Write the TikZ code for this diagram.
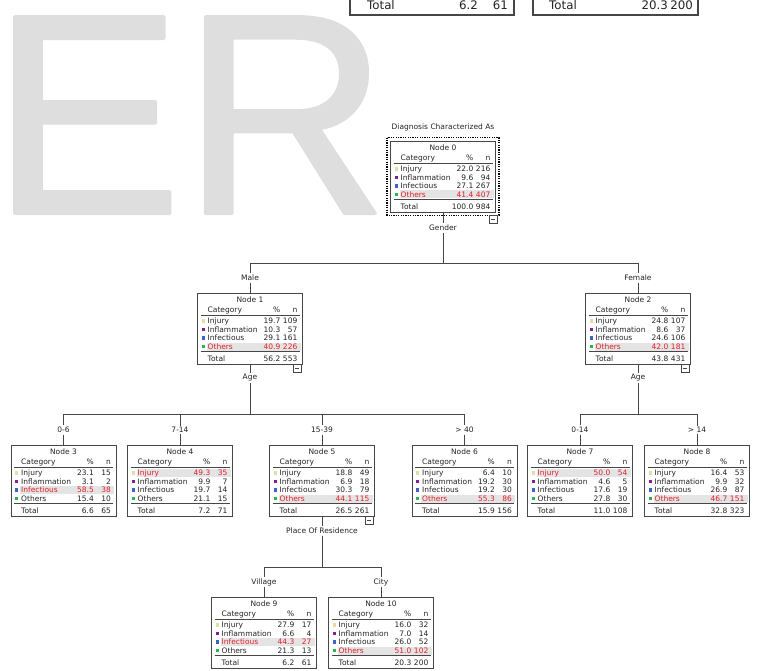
\documentclass[tikz,border=0pt]{standalone}
\usepackage{fontspec}
\setmainfont{DejaVu Sans}
\newfontfamily\erfont{Liberation Sans}
\usetikzlibrary{calc}
\definecolor{sq1}{RGB}{228,220,160}
\definecolor{sq2}{RGB}{140,30,140}
\definecolor{sq3}{RGB}{60,100,200}
\definecolor{sq4}{RGB}{40,180,80}
\definecolor{hired}{RGB}{225,30,40}
\definecolor{hlgrey}{RGB}{228,228,228}
\definecolor{ergrey}{RGB}{222,222,222}
\definecolor{lncol}{RGB}{70,70,70}
\definecolor{txcol}{RGB}{35,35,35}
\tikzset{
 tbox/.style={draw=lncol, line width=0.8pt, minimum width=105pt, minimum height=71pt, inner sep=0pt},
 ttext/.style={inner sep=0pt, font=\fontsize{7.5}{8}\selectfont, text=txcol},
 bigtext/.style={inner sep=0pt, font=\fontsize{11.8}{12}\selectfont, text=txcol},
 ertext/.style={anchor=base west, inner sep=0pt, text=ergrey, font=\erfont\fontsize{286}{286}\selectfont},
 hline/.style={draw=lncol, line width=0.8pt},
 conn/.style={draw=lncol, line width=0.8pt},
 lab/.style={fill=white, inner sep=1.5pt, font=\fontsize{7.5}{8}\selectfont, text=txcol},
}
\newcommand\TNode[8]{%
\begin{scope}[shift={(#2,#3)}]
 \node[tbox] (#1) at (0,35.5) {};
 \node[ttext,anchor=base] at (0,9.9) {Node #4};
 \node[ttext,anchor=base west] at (-42.5,19.7) {Category};
 \node[ttext,anchor=base east] at (30.5,19.7) {\%};
 \node[ttext,anchor=base east] at (47.5,19.7) {n};
 \draw[hline] (-49.5,22.6) -- (49.5,22.6);
 \foreach \pp/\nn [count=\ii] in {#6}{%
   \pgfmathsetmacro\yc{19.5+8.5*\ii}
   \ifnum\ii=#5\relax
     \fill[hlgrey] (-43.5,\yc-4) rectangle (50.5,\yc+4);
     \def\rc{hired}%
   \else \def\rc{txcol}\fi
   \fill[sq\ii] (-48.5,\yc-1.7) rectangle (-45.1,\yc+1.7);
   \node[ttext,text=\rc,anchor=base west] at (-42.5,\yc+2.7) {\ifcase\ii\or Injury\or Inflammation\or Infectious\or Others\fi};
   \node[ttext,text=\rc,anchor=base east] at (30.5,\yc+2.7) {\pp};
   \node[ttext,text=\rc,anchor=base east] at (47.5,\yc+2.7) {\nn};
 }
 \draw[hline] (-49.5,58.6) -- (49.5,58.6);
 \node[ttext,anchor=base west] at (-42.5,68.2) {Total};
 \node[ttext,anchor=base east] at (30.5,68.2) {#7};
 \node[ttext,anchor=base east] at (47.5,68.2) {#8};
\end{scope}}
\newcommand\Toggle[3]{%
 \draw[hline,fill=white] ($(#1.south east)+(-10+#3,#2)$) rectangle ($(#1.south east)+(-2+#3,#2+8)$);
 \draw[hline] ($(#1.south east)+(-8+#3,#2+4)$) -- ($(#1.south east)+(-4+#3,#2+4)$);}
\begin{document}
\begin{tikzpicture}[x=1pt,y=-1pt]
\useasboundingbox (0,0) rectangle (761,671);
\clip (0,0) rectangle (761,671);
% watermark (stroked + filled glyphs for heavier strokes)
\node[ertext] (er) at (-9,213.5) {\special{pdf:literal direct 2 Tr 3.2 w 1 j 0.871 0.871 0.871 RG}ER\special{pdf:literal direct 0 Tr}};
% top fragments
\draw[draw=lncol, line width=1.3pt] (350,-10) -- (350,15) -- (514,15) -- (514,-10);
\draw[draw=lncol, line width=1.3pt] (533,-10) -- (533,15) -- (698,15) -- (698,-10);
\node[bigtext,anchor=base west] (fa1) at (367,9.5) {Total};
\node[bigtext,anchor=base east] (fa2) at (478,9.5) {6.2};
\node[bigtext,anchor=base east] (fa3) at (508,9.5) {61};
\node[bigtext,anchor=base west] (fb1) at (549,9.5) {Total};
\node[bigtext,anchor=base east] (fb2) at (668,9.5) {20.3};
\node[bigtext,anchor=base east] (fb3) at (693,9.5) {200};
% title
\node[ttext,anchor=base] (title) at (443,129.5) {Diagnosis Characterized As};
% nodes
\TNode{n0}{443}{141}{0}{4}{22.0/216, 9.6/94, 27.1/267, 41.4/407}{100.0}{984}
\draw[line width=1.6pt, dash pattern=on 1.2pt off 1.2pt] ($(n0.north west)+(-3,-3)$) rectangle ($(n0.south east)+(3,3)$);
\TNode{n1}{250}{293}{1}{4}{19.7/109, 10.3/57, 29.1/161, 40.9/226}{56.2}{553}
\TNode{n2}{638}{293}{2}{4}{24.8/107, 8.6/37, 24.6/106, 42.0/181}{43.8}{431}
\TNode{n3}{63.5}{445}{3}{3}{23.1/15, 3.1/2, 58.5/38, 15.4/10}{6.6}{65}
\TNode{n4}{180}{445}{4}{1}{49.3/35, 9.9/7, 19.7/14, 21.1/15}{7.2}{71}
\TNode{n5}{322}{445}{5}{4}{18.8/49, 6.9/18, 30.3/79, 44.1/115}{26.5}{261}
\TNode{n6}{464.5}{445}{6}{4}{6.4/10, 19.2/30, 19.2/30, 55.3/86}{15.9}{156}
\TNode{n7}{580}{445}{7}{1}{50.0/54, 4.6/5, 17.6/19, 27.8/30}{11.0}{108}
\TNode{n8}{697}{445}{8}{4}{16.4/53, 9.9/32, 26.9/87, 46.7/151}{32.8}{323}
\TNode{n9}{264}{597}{9}{3}{27.9/17, 6.6/4, 44.3/27, 21.3/13}{6.2}{61}
\TNode{n10}{381}{597}{10}{4}{16.0/32, 7.0/14, 26.0/52, 51.0/102}{20.3}{200}
% labels
\node[lab] (lgen) at (443,228) {Gender};
\node[lab] (lmale) at (250,278) {Male};
\node[lab] (lfem) at (638,278) {Female};
\node[lab] (lage1) at (250,378) {Age};
\node[lab] (lage2) at (638,378) {Age};
\node[lab] (l06) at (63.5,430) {0-6};
\node[lab] (l714) at (180,430) {7-14};
\node[lab] (l1539) at (322,430) {15-39};
\node[lab] (lg40) at (464.5,430) {> 40};
\node[lab] (l014) at (580,430) {0-14};
\node[lab] (lg14) at (697,430) {> 14};
\node[lab] (lpor) at (322,531) {Place Of Residence};
\node[lab] (lvil) at (264,582) {Village};
\node[lab] (lcity) at (381,582) {City};
% junctions
\coordinate (j0) at (443,263);
\coordinate (j0l) at (250,263);
\coordinate (j0r) at (638,263);
\coordinate (j1) at (250,414);
\coordinate (j1a) at (63.5,414);
\coordinate (j1b) at (180,414);
\coordinate (j1c) at (322,414);
\coordinate (j1d) at (464.5,414);
\coordinate (j2) at (638,414);
\coordinate (j2a) at (580,414);
\coordinate (j2b) at (697,414);
\coordinate (j5) at (322,567);
\coordinate (j5a) at (264,567);
\coordinate (j5b) at (381,567);
% connectors
\draw[conn] (n0) -- (lgen) -- (j0);
\draw[conn] (j0l) -- (j0r);
\draw[conn] (j0l) -- (lmale) -- (n1);
\draw[conn] (j0r) -- (lfem) -- (n2);
\draw[conn] (n1) -- (lage1) -- (j1);
\draw[conn] (j1a) -- (j1d);
\draw[conn] (j1a) -- (l06) -- (n3);
\draw[conn] (j1b) -- (l714) -- (n4);
\draw[conn] (j1c) -- (l1539) -- (n5);
\draw[conn] (j1d) -- (lg40) -- (n6);
\draw[conn] (n2) -- (lage2) -- (j2);
\draw[conn] (j2a) -- (j2b);
\draw[conn] (j2a) -- (l014) -- (n7);
\draw[conn] (j2b) -- (lg14) -- (n8);
\draw[conn] (n5) -- (lpor) -- (j5);
\draw[conn] (j5a) -- (j5b);
\draw[conn] (j5a) -- (lvil) -- (n9);
\draw[conn] (j5b) -- (lcity) -- (n10);
% toggles
\Toggle{n0}{3}{3}
\Toggle{n1}{0}{0}
\Toggle{n2}{0}{0}
\Toggle{n5}{0}{0}
\end{tikzpicture}
\end{document}
